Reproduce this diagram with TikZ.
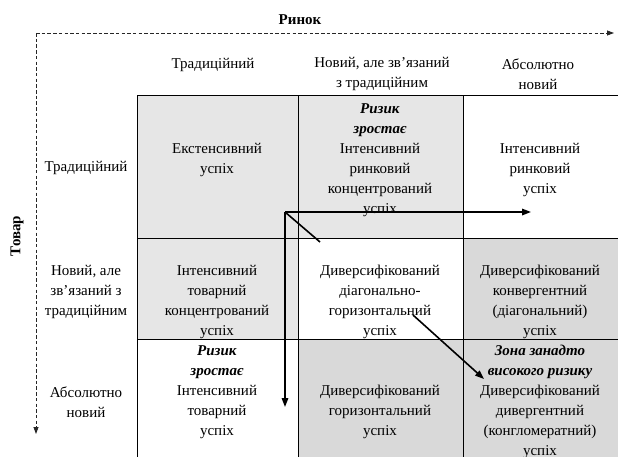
\documentclass[tikz,border=0pt]{standalone}
\usepackage{fontspec}
\setmainfont{Liberation Serif}
\usetikzlibrary{arrows.meta}
\definecolor{lightcell}{HTML}{E6E6E6}
\definecolor{darkcell}{HTML}{D9D9D9}
\tikzset{
  celltext/.style={align=center,inner sep=0pt,font=\fontsize{15}{20}\selectfont},
  axislabel/.style={inner sep=0pt,font=\fontsize{15}{18}\selectfont\bfseries},
  gridline/.style={line width=1pt,black},
  axisline/.style={line width=0.8pt,black!85,dash pattern=on 3.5pt off 2.2pt,-{Triangle[length=7pt,width=5pt]}},
  bigarrow/.style={line width=1.6pt,black,-{Triangle[length=9pt,width=6.5pt]}},
  bigline/.style={line width=1.6pt,black},
}
\newcommand{\riskfont}[1]{\textbf{\textit{#1}}}
\begin{document}
\begin{tikzpicture}[x=1pt,y=-1pt]
\useasboundingbox (0,0) rectangle (618,456);
% cell fills
\fill[lightcell] (137,95) rectangle (298,238);
\fill[lightcell] (298,95) rectangle (463,238);
\fill[lightcell] (137,238) rectangle (298,339);
\fill[darkcell] (463,238) rectangle (620,339);
\fill[darkcell] (298,339) rectangle (463,458);
\fill[darkcell] (463,339) rectangle (620,458);
% grid
\draw[gridline] (137,95) -- (620,95);
\draw[gridline] (137,238) -- (620,238);
\draw[gridline] (137,339) -- (620,339);
\draw[gridline] (137,95) -- (137,458);
\draw[gridline] (298,95) -- (298,458);
\draw[gridline] (463,95) -- (463,458);
% axes
\coordinate (origin) at (36,33);
\coordinate (xend) at (614,33);
\coordinate (yend) at (36,434);
\draw[axisline] (origin) -- (xend);
\draw[axisline] (origin) -- (yend);
\node[axislabel] (market) at (300,20) {Ринок};
\node[axislabel,rotate=90] (product) at (17,236) {Товар};
% column headers
\node[celltext] (h1) at (213,65) {Традиційний};
\node[celltext] (h2) at (382,74) {Новий, але зв’язаний\\з традиційним};
\node[celltext] (h3) at (538,74) {Абсолютно\\новий};
% row headers
\node[celltext] (r1) at (86,168) {Традиційний};
\node[celltext] (r2) at (86,292) {Новий, але\\зв’язаний з\\традиційним};
\node[celltext] (r3) at (86,402) {Абсолютно\\новий};
% cells
\node[celltext] (c11) at (217,160) {Екстенсивний\\успіх};
\node[celltext] (c12) at (380,160) {\riskfont{Ризик}\\\riskfont{зростає}\\Інтенсивний\\ринковий\\концентрований\\успіх};
\node[celltext] (c13) at (540,170) {Інтенсивний\\ринковий\\успіх};
\node[celltext] (c21) at (217,302) {Інтенсивний\\товарний\\концентрований\\успіх};
\node[celltext] (c22) at (380,302) {Диверсифікований\\діагонально-\\горизонтальний\\успіх};
\node[celltext] (c23) at (540,302) {Диверсифікований\\конвергентний\\(діагональний)\\успіх};
\node[celltext] (c31) at (217,392) {\riskfont{Ризик}\\\riskfont{зростає}\\Інтенсивний\\товарний\\успіх};
\node[celltext] (c32) at (380,412) {Диверсифікований\\горизонтальний\\успіх};
\node[celltext] (c33) at (540,402) {\riskfont{Зона занадто}\\\riskfont{високого ризику}\\Диверсифікований\\дивергентний\\(конгломератний)\\успіх};
% growth arrows
\coordinate (corner) at (285,212);
\coordinate (hend) at (531,212);
\coordinate (vend) at (285,407);
\coordinate (dstart) at (320,242);
\coordinate (d2start) at (413,315);
\coordinate (d2end) at (484,379);
\draw[bigarrow] (corner) -- (hend);
\draw[bigarrow] (corner) -- (vend);
\draw[bigline] (corner) -- (dstart);
\draw[bigarrow] (d2start) -- (d2end);
\end{tikzpicture}
\end{document}
